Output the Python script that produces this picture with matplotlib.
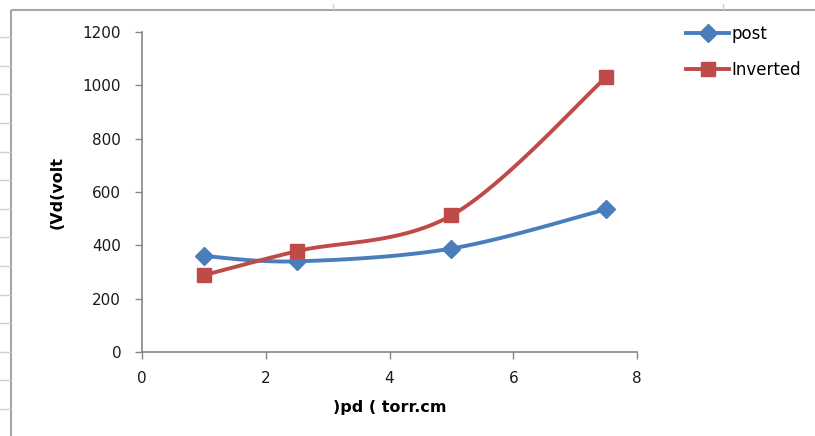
import numpy as np
import matplotlib
matplotlib.use("Agg")
import matplotlib.pyplot as plt
from matplotlib.lines import Line2D

plt.rcParams["font.family"] = ["DejaVu Sans"]

# data
pd_values = [1, 2.5, 5, 7.5]
post = [360, 340, 388, 535]
inverted = [288, 378, 512, 1030]

x_ticks = [0, 2, 4, 6, 8]
y_ticks = [0, 200, 400, 600, 800, 1000, 1200]

BLUE = "#4A7EBB"
RED = "#BE4B48"
GRAY = "#868686"


def smooth(xs, ys, n=40):
    """Catmull-Rom style bezier through the points, like Excel's smoothed line."""
    xs = np.asarray(xs, float)
    ys = np.asarray(ys, float)
    px = np.concatenate([[xs[0]], xs, [xs[-1]]])
    py = np.concatenate([[ys[0]], ys, [ys[-1]]])
    out_x, out_y = [], []
    t = np.linspace(0, 1, n)
    for i in range(1, len(px) - 2):
        p0 = np.array([px[i], py[i]])
        p3 = np.array([px[i + 1], py[i + 1]])
        p1 = p0 + (np.array([px[i + 1], py[i + 1]]) - np.array([px[i - 1], py[i - 1]])) / 6
        p2 = p3 - (np.array([px[i + 2], py[i + 2]]) - np.array([px[i], py[i]])) / 6
        b = ((1 - t) ** 3)[:, None] * p0 + (3 * (1 - t) ** 2 * t)[:, None] * p1 \
            + (3 * (1 - t) * t ** 2)[:, None] * p2 + (t ** 3)[:, None] * p3
        out_x.extend(b[:, 0])
        out_y.extend(b[:, 1])
    return out_x, out_y


fig = plt.figure(figsize=(8.15, 4.36), dpi=100)
ax = fig.add_axes([142 / 815, 1 - 352 / 436, 495 / 815, 320 / 436])

for ys, color, marker, ms in [(post, BLUE, "D", 9), (inverted, RED, "s", 10.5)]:
    sx, sy = smooth(pd_values, ys)
    ax.plot(sx, sy, color=color, lw=2.8, solid_capstyle="round", zorder=3)
    ax.plot(pd_values, ys, ls="none", marker=marker, ms=ms, color=color, zorder=4)

ax.set_xlim(0, 8)
ax.set_ylim(0, 1200)
ax.set_xticks(x_ticks)
ax.set_yticks(y_ticks)
ax.tick_params(axis="both", direction="out", length=5, color=GRAY, width=1,
               labelsize=11, labelcolor="#1a1a1a")
ax.tick_params(axis="x", pad=9)
ax.tick_params(axis="y", pad=10)
for s in ["top", "right"]:
    ax.spines[s].set_visible(False)
for s in ["left", "bottom"]:
    ax.spines[s].set_color(GRAY)
    ax.spines[s].set_linewidth(1.2)

ax.set_xlabel(")pd ( torr.cm", fontsize=11.5, fontweight="bold", labelpad=10)
ax.set_ylabel("(Vd(volt", fontsize=11.5, fontweight="bold", labelpad=13)

handles = [
    Line2D([], [], color=BLUE, lw=2.8, marker="D", ms=9),
    Line2D([], [], color=RED, lw=2.8, marker="s", ms=10.5),
]
fig.legend(handles, ["post", "Inverted"], loc="upper left",
           bbox_to_anchor=(671 / 815, 1 - 10 / 436), frameon=False,
           fontsize=12, handlelength=2.6, handletextpad=0.15, labelspacing=1.1)

# spreadsheet frame around the chart
frame_kw = dict(color="#A6A6A6", lw=1.5, solid_capstyle="butt",
                transform=fig.transFigure)
fig.add_artist(Line2D([11 / 815, 11 / 815], [-0.01, 1 - 10 / 436], **frame_kw))
fig.add_artist(Line2D([11 / 815, 1.02], [1 - 10 / 436, 1 - 10 / 436], **frame_kw))
mark_kw = dict(color="#D0D0D0", lw=1, transform=fig.transFigure)
for yy in np.arange(409, 20, -28.6):
    fig.add_artist(Line2D([0, 10 / 815], [1 - yy / 436] * 2, **mark_kw))
for xx in [333, 723]:
    fig.add_artist(Line2D([xx / 815] * 2, [1 - 4 / 436, 1 - 9 / 436], **mark_kw))

fig.savefig("out.png", dpi=100)
